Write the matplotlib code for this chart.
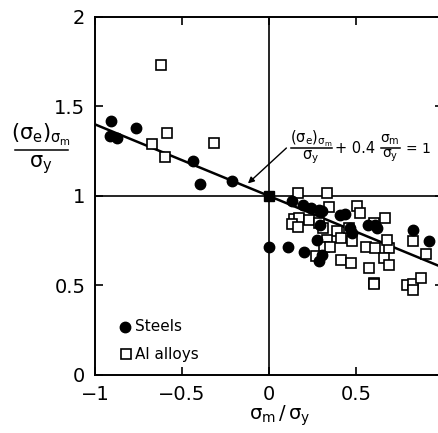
import matplotlib
matplotlib.use("Agg")
import matplotlib.pyplot as plt
from matplotlib.lines import Line2D
import numpy as np

plt.rcParams["font.family"] = ["DejaVu Sans"]
plt.rcParams["mathtext.fontset"] = "dejavusans"
plt.rcParams["mathtext.default"] = "regular"

W, H = 439, 433

# steels (filled circles): sigma_m/sigma_y, (sigma_e)_sm/sigma_y
steel_x = [-0.907, -0.913, -0.874, -0.766, -0.436, -0.398, -0.213,
           0.0, 0.107, 0.200, 0.307, 0.286, 0.276,
           0.133, 0.194, 0.242, 0.290, 0.305, 0.295, 0.410, 0.438,
           0.467, 0.476, 0.571, 0.610, 0.621, 0.830, 0.920]
steel_y = [1.419, 1.335, 1.322, 1.378, 1.197, 1.067, 1.084,
           0.713, 0.713, 0.689, 0.670, 0.635, 0.756,
           0.970, 0.947, 0.933, 0.924, 0.914, 0.840, 0.896, 0.900,
           0.821, 0.793, 0.840, 0.840, 0.821, 0.812, 0.750]

# Al alloys (open squares)
al_x = [-0.621, -0.585, -0.670, -0.598, -0.316,
        0.168, 0.335, 0.345, 0.503, 0.522, 0.667, 0.606,
        0.145, 0.173, 0.130, 0.164, 0.230, 0.288, 0.313,
        0.392, 0.415, 0.459, 0.476, 0.331, 0.316, 0.350, 0.270,
        0.560, 0.611, 0.691, 0.680, 0.663, 0.691, 0.411, 0.469,
        0.573, 0.602, 0.606, 0.825, 0.901, 0.796, 0.830, 0.873, 0.825]
al_y = [1.733, 1.350, 1.289, 1.218, 1.298,
        1.015, 1.015, 0.937, 0.944, 0.903, 0.877, 0.851,
        0.869, 0.875, 0.844, 0.828, 0.866, 0.847, 0.819,
        0.806, 0.763, 0.819, 0.751, 0.754, 0.713, 0.713, 0.663,
        0.717, 0.709, 0.709, 0.756, 0.654, 0.612, 0.642, 0.627,
        0.596, 0.512, 0.508, 0.746, 0.676, 0.504, 0.508, 0.542, 0.477]

# Goodman-type line: y = 1 - 0.4 x
slope = -0.4
line_x = np.array([-1.0, 0.98])
line_y = 1 + slope * line_x


def px(x, y):
    # pixel position (from top-left) -> figure fraction
    return x / W, 1 - y / H


def stacked(fig, xc, ybar, x0, x1, num, den, size, gap=9):
    fig.text(*px(xc, ybar - gap), num, fontsize=size, ha="center", va="center")
    fig.text(*px(xc, ybar + gap), den, fontsize=size, ha="center", va="center")
    fig.add_artist(Line2D([x0 / W, x1 / W], [1 - ybar / H] * 2,
                          transform=fig.transFigure, color="black", lw=1.1))


fig = plt.figure(figsize=(4.39, 4.33), dpi=100)
ax = fig.add_axes([0.2164, 0.134, 0.7927, 0.8268])

ax.axvline(0, color="black", lw=1.2, zorder=1)
ax.axhline(1, color="black", lw=1.2, zorder=1)
ax.plot(line_x, line_y, color="black", lw=1.8, zorder=2)

ax.plot(al_x, al_y, ls="none", marker="s", ms=6.8, mfc="white",
        mec="black", mew=1.2, zorder=3)
ax.plot(steel_x, steel_y, ls="none", marker="o", ms=7.5, color="black",
        zorder=4)
ax.plot([0], [1], ls="none", marker="s", ms=7.5, color="black", zorder=5)

# arrow to the line
ax.annotate("", xy=(-0.121, 1.07), xytext=(0.10, 1.268),
            arrowprops=dict(arrowstyle="-|>", color="black", lw=1.0,
                            mutation_scale=9, shrinkA=0, shrinkB=0))

# equation label
stacked(fig, 311, 148, 291, 332, r"$(\sigma_e)_{\sigma_m}$", r"$\sigma_y$", 10.5, gap=9)
fig.text(*px(355, 149), "+ 0.4", fontsize=10.5, ha="center", va="center")
stacked(fig, 390, 148, 381, 400, r"$\sigma_m$", r"$\sigma_y$", 10, gap=8)
fig.text(*px(418, 149), "= 1", fontsize=10, ha="center", va="center")

# y axis label as a stacked fraction
stacked(fig, 41, 150, 15, 68, r"$(\sigma_e)_{\sigma_m}$", r"$\sigma_y$", 15, gap=15)

# legend drawn as markers + text
ax.plot([-0.83], [0.27], ls="none", marker="o", ms=7.5, color="black")
ax.text(-0.77, 0.27, "Steels", fontsize=11, va="center", ha="left")
ax.plot([-0.82], [0.115], ls="none", marker="s", ms=6.5, mfc="white",
        mec="black", mew=1.2)
ax.text(-0.77, 0.115, "Al alloys", fontsize=11, va="center", ha="left")

ax.set_xlim(-1, 1)
ax.set_ylim(0, 2)
ax.set_xticks([-1, -0.5, 0, 0.5, 1])
ax.set_xticklabels(["\u22121", "\u22120.5", "0", "0.5", ""])
ax.set_yticks([0, 0.5, 1, 1.5, 2])
ax.set_yticklabels(["0", "0.5", "1", "1.5", "2"])
ax.tick_params(direction="in", length=6, width=1.2, labelsize=14,
               top=True, right=True, pad=7)
for s in ax.spines.values():
    s.set_linewidth(1.4)

fig.text(*px(280, 416), r"$\sigma_m\,/\,\sigma_y$", fontsize=14,
         ha="center", va="center")

fig.savefig("out.png", dpi=100)
